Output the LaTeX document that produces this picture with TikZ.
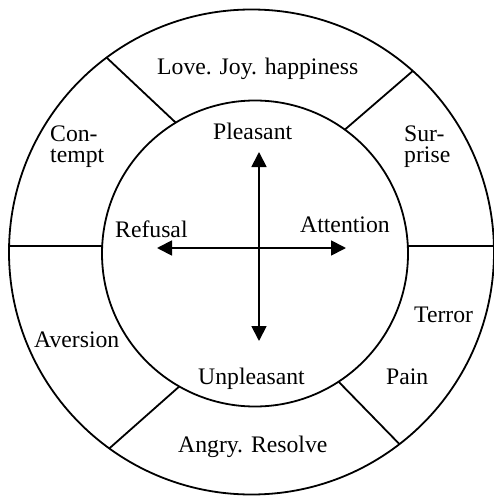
\documentclass[tikz,border=0pt]{standalone}
\usepackage{fontspec}
\setmainfont{Liberation Serif}
\usetikzlibrary{arrows.meta,calc}
\begin{document}
\begin{tikzpicture}[x=1pt,y=-1pt,
  ring/.style={line width=1.8pt},
  divider/.style={line width=1.8pt},
  axis/.style={line width=1.8pt,-{Triangle[length=15pt,width=15pt]}},
  lbl/.style={font=\fontsize{23.7}{20.5}\selectfont,inner sep=0pt,anchor=base west,align=left}]
\useasboundingbox (0,0) rectangle (494,497);
% circles
\coordinate (oc) at (251.5,252);
\coordinate (ic) at (255,253.5);
\draw[ring] (oc) circle[radius=242.5];
\draw[ring] (ic) circle[radius=153];
% dividers (polar: y axis points down, so angles are negated)
\draw[divider] ($(ic)+(-121.2:153)$) -- ($(oc)+(-126.7:242.5)$);
\draw[divider] ($(ic)+(-54.05:153)$) -- ($(oc)+(-48.3:242.5)$);
\draw[divider] ($(ic)+(-177.2:153)$) -- ($(oc)+(-178.6:242.5)$);
\draw[divider] ($(ic)+(-2.8:153)$) -- ($(oc)+(-1.4:242.5)$);
\draw[divider] ($(ic)+(-240.35:153)$) -- ($(oc)+(-234.1:242.5)$);
\draw[divider] ($(ic)+(56.9:153)$) -- ($(oc)+(52.4:242.5)$);
% axes
\coordinate (cross) at (259,248);
\coordinate (up) at (259,152);
\coordinate (down) at (259,341);
\coordinate (left) at (157,248);
\coordinate (right) at (346,248);
\draw[axis] (cross) -- (up);
\draw[axis] (cross) -- (down);
\draw[axis] (cross) -- (left);
\draw[axis] (cross) -- (right);
% labels
\node[lbl] (love) at (157,75) {Love. Joy. happiness};
\node[lbl] (pleasant) at (213,140) {Pleasant};
\node[lbl] (contempt) at (50,162) {Con-\\tempt};
\node[lbl] (surprise) at (404,162) {Sur-\\prise};
\node[lbl] (refusal) at (115,237) {Refusal};
\node[lbl] (attention) at (300,232) {Attention};
\node[lbl] (terror) at (414,322) {Terror};
\node[lbl] (aversion) at (34,347) {Aversion};
\node[lbl] (unpleasant) at (198,384) {Unpleasant};
\node[lbl] (pain) at (386,384) {Pain};
\node[lbl] (angry) at (178,452) {Angry. Resolve};
\end{tikzpicture}
\end{document}
